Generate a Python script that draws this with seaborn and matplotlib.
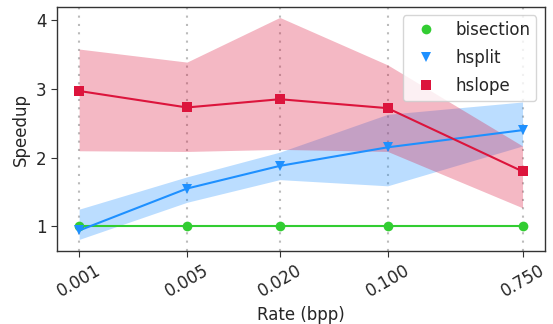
import matplotlib
matplotlib.use("Agg")
import matplotlib.pyplot as plt
import seaborn as sns
import pandas as pd
from matplotlib.ticker import FixedLocator, FixedFormatter, NullLocator
from matplotlib.lines import Line2D

# Compression rates (bits per pixel)
rates = [0.001, 0.005, 0.020, 0.100, 0.750]
rate_labels = ["0.001", "0.005", "0.020", "0.100", "0.750"]

# Mean speedup per method
bisection = [1.0, 1.0, 1.0, 1.0, 1.0]
hsplit = [0.94, 1.55, 1.88, 2.15, 2.40]
hslope = [2.97, 2.73, 2.85, 2.72, 1.80]

# Spread (lower / upper) per method
hsplit_low = [0.81, 1.35, 1.68, 1.59, 2.17]
hsplit_high = [1.25, 1.72, 2.08, 2.63, 2.81]
hslope_low = [2.10, 2.09, 2.12, 2.09, 1.27]
hslope_high = [3.58, 3.39, 4.04, 3.35, 2.17]

methods = ["bisection", "hsplit", "hslope"]
colors = {"bisection": "#32CD32", "hsplit": "#1E90FF", "hslope": "#DC143C"}
markers = {"bisection": "o", "hsplit": "v", "hslope": "s"}

df = pd.DataFrame({
    "rate": rates * 3,
    "speedup": bisection + hsplit + hslope,
    "method": ["bisection"] * 5 + ["hsplit"] * 5 + ["hslope"] * 5,
})

sns.set_style("ticks")
plt.rcParams["font.family"] = ["DejaVu Sans"]

fig = plt.figure(figsize=(5.53, 3.24), dpi=100)
ax = fig.add_axes([0.103, 0.225, 0.882, 0.753])
ax.set_xscale("log")

ax.fill_between(rates, hsplit_low, hsplit_high, color=colors["hsplit"], alpha=0.3, linewidth=0)
ax.fill_between(rates, hslope_low, hslope_high, color=colors["hslope"], alpha=0.3, linewidth=0)

sns.lineplot(data=df, x="rate", y="speedup", hue="method", style="method",
             palette=colors, markers=markers, dashes=False, markersize=7,
             markeredgewidth=0, linewidth=1.5, legend=False, ax=ax)

for r in rates:
    ax.axvline(r, color="#bbbbbb", linestyle=(0, (1, 3)), linewidth=1.5, zorder=0)

ax.xaxis.set_major_locator(FixedLocator(rates))
ax.xaxis.set_major_formatter(FixedFormatter(rate_labels))
ax.xaxis.set_minor_locator(NullLocator())
ax.set_yticks([1, 2, 3, 4])
ax.set_ylim(0.64, 4.19)
plt.setp(ax.get_xticklabels(), rotation=30, ha="center")
ax.tick_params(axis="both", labelsize=12, length=4, color="#333333")
for s in ax.spines.values():
    s.set_color("#333333")
    s.set_linewidth(1.0)

ax.set_xlabel("Rate (bpp)", fontsize=12)
ax.set_ylabel("Speedup", fontsize=12)

handles = [Line2D([], [], linestyle="none", marker=markers[m], color=colors[m],
                  markersize=7, markeredgewidth=0) for m in methods]
ax.legend(handles, methods, loc="upper right", fontsize=12, frameon=True,
          labelspacing=0.6, borderpad=0.35)

fig.savefig("out.png", dpi=100)
